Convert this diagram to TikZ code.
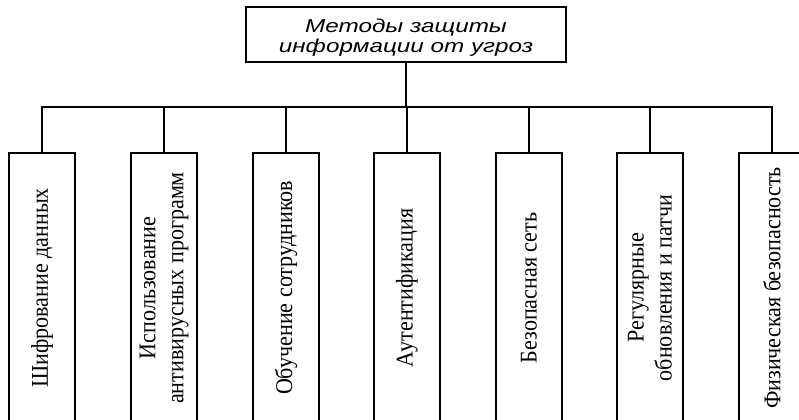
\documentclass[tikz,border=0pt]{standalone}
\usepackage{fontspec}
\newfontfamily\sidefont[FakeStretch=0.92]{Liberation Serif}
\newfontfamily\topfont[FakeStretch=1.3]{Liberation Sans}
\begin{document}
\begin{tikzpicture}[x=0.75pt,y=-0.75pt,
  conn/.style={line width=1.4pt,black},
  topbox/.style={draw,line width=1.4pt,minimum width=240pt,minimum height=41.25pt,inner sep=0pt,align=center,font=\topfont\itshape\fontsize{14}{15.5}\selectfont},
  methbox/.style={draw,line width=1.4pt,rotate=90,anchor=east,minimum width=202.5pt,minimum height=49.5pt,inner sep=0pt,align=center,font=\sidefont\fontsize{18}{21}\selectfont}]
\useasboundingbox (0,0) rectangle (799,419);
\clip (0,0) rectangle (799,419);
\node[topbox] (top) at (406,34.5) {\rule{0pt}{15pt}Методы защиты\\информации от угроз};
\node[methbox] (b1) at (42,152) {Шифрование данных};
\node[methbox] (b2) at (164,152) {Использование\\антивирусных программ};
\node[methbox] (b3) at (286,152) {Обучение сотрудников};
\node[methbox] (b4) at (407,152) {Аутентификация};
\node[methbox] (b5) at (529,152) {Безопасная сеть};
\node[methbox] (b6) at (650,152) {Регулярные\\обновления и патчи};
\node[methbox] (b7) at (772,152) {Физическая безопасность};
\coordinate (bar) at (406,107);
\draw[conn] (top.south) -- (bar);
\draw[conn] (b1.east) -- (b1.east |- bar) -- (b7.east |- bar) -- (b7.east);
\foreach \i in {2,...,6} \draw[conn] (b\i.east) -- (b\i.east |- bar);
\end{tikzpicture}
\end{document}
